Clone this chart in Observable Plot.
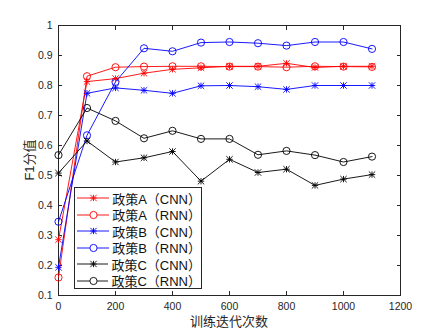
<!DOCTYPE html>
<html>
<head>
<meta charset="utf-8">
<script src="https://cdn.jsdelivr.net/npm/d3@7"></script>
<script src="https://cdn.jsdelivr.net/npm/@observablehq/plot@0.6"></script>
<style>
  body { margin: 0; background: #fff; }
  #wrap { position: relative; width: 443px; height: 332px; font-family: "Liberation Sans", Arial, sans-serif; }
  #legend { position: absolute; left: 74px; top: 187px; width: 128px; height: 102px; border: 1px solid #262626; background: #fff; box-sizing: border-box; padding-top: 2px; }
  .row { display: flex; align-items: center; height: 16.5px; font-family: "Liberation Sans", "Noto Sans CJK SC", sans-serif; font-size: 13px; color: #111; white-space: nowrap; }
  .row svg { margin-left: 2px; margin-right: 3px; }
  .xlab { position: absolute; left: 0; width: 458px; top: 311px; text-align: center; font-family: "Noto Sans CJK SC", sans-serif; font-size: 13px; color: #262626; }
  .ylab { position: absolute; left: 28px; top: 160px; transform: translate(-50%, -50%) rotate(-90deg); font-family: "Liberation Sans", "Noto Sans CJK SC", sans-serif; font-size: 13px; color: #262626; white-space: nowrap; }
</style>
</head>
<body>
<div id="wrap"></div>
<script>
const iters = [0, 100, 200, 300, 400, 500, 600, 700, 800, 900, 1000, 1100];
const aCNN = [0.286, 0.813, 0.823, 0.841, 0.854, 0.859, 0.864, 0.864, 0.874, 0.860, 0.864, 0.864];
const aRNN = [0.160, 0.831, 0.861, 0.863, 0.864, 0.864, 0.863, 0.863, 0.861, 0.864, 0.863, 0.862];
const bCNN = [0.194, 0.774, 0.792, 0.784, 0.774, 0.799, 0.800, 0.796, 0.787, 0.800, 0.800, 0.800];
const bRNN = [0.346, 0.634, 0.812, 0.924, 0.914, 0.943, 0.945, 0.941, 0.933, 0.945, 0.945, 0.922];
const cCNN = [0.508, 0.615, 0.545, 0.559, 0.580, 0.481, 0.554, 0.510, 0.521, 0.467, 0.488, 0.503];
const cRNN = [0.568, 0.725, 0.682, 0.624, 0.649, 0.622, 0.622, 0.569, 0.582, 0.568, 0.545, 0.563];
const names = ["政策A（CNN）", "政策A（RNN）", "政策B（CNN）", "政策B（RNN）", "政策C（CNN）", "政策C（RNN）"];
const colors = ["#ff0000", "#ff0000", "#0000ff", "#0000ff", "#000000", "#000000"];
const markers = ["star", "circle", "star", "circle", "star", "circle"];
const xTicks = [0, 200, 400, 600, 800, 1000, 1200];
const yTicks = [0.1, 0.2, 0.3, 0.4, 0.5, 0.6, 0.7, 0.8, 0.9, 1];
const xLabel = "训练迭代次数";
const yLabel = "F1分值";

const seriesValues = [aCNN, aRNN, bCNN, bRNN, cCNN, cRNN];
const data = seriesValues.flatMap((vals, i) => vals.map((v, j) => ({
  iter: iters[j], f1: v, name: names[i], color: colors[i], marker: markers[i]
})));
const stars = data.filter(d => d.marker === "star");
const circles = data.filter(d => d.marker === "circle");

const axisColor = "#262626";
const plot = Plot.plot({
  width: 443,
  height: 332,
  marginLeft: 58,
  marginRight: 43,
  marginTop: 25,
  marginBottom: 37,
  style: { fontFamily: "Liberation Sans, Arial, sans-serif", fontSize: "10.5px", color: axisColor, background: "transparent" },
  x: { domain: [0, 1200] },
  y: { domain: [0.1, 1] },
  color: { type: "identity" },
  marks: [
    Plot.axisX({ ticks: xTicks, tickSize: -4, tickPadding: 11, label: null, tickFormat: d => String(d), stroke: axisColor }),
    Plot.axisX({ anchor: "top", ticks: xTicks, tickSize: -4, label: null, tickFormat: () => "", stroke: axisColor }),
    Plot.axisY({ ticks: yTicks, tickSize: -4, tickPadding: 10, label: null, tickFormat: d => String(+d.toFixed(1)), stroke: axisColor }),
    Plot.axisY({ anchor: "right", ticks: yTicks, tickSize: -4, label: null, tickFormat: () => "", stroke: axisColor }),
    Plot.frame({ stroke: axisColor, strokeWidth: 1 }),
    Plot.line(data, { x: "iter", y: "f1", z: "name", stroke: "color", strokeWidth: 0.9 }),
    Plot.dot(circles, { x: "iter", y: "f1", stroke: "color", fill: "none", r: 3.6, strokeWidth: 0.9 }),
    Plot.dot(stars, { x: "iter", y: "f1", stroke: "color", symbol: "plus", r: 2.2, strokeWidth: 0.9 }),
    Plot.dot(stars, { x: "iter", y: "f1", stroke: "color", symbol: "times", r: 3.0, strokeWidth: 0.9 })
  ]
});
const wrap = document.getElementById("wrap");
wrap.appendChild(plot);

const xl = document.createElement("div"); xl.className = "xlab"; xl.textContent = xLabel; wrap.appendChild(xl);
const yl = document.createElement("div"); yl.className = "ylab"; yl.textContent = yLabel; wrap.appendChild(yl);

const legend = document.createElement("div");
legend.id = "legend";
names.forEach((n, i) => {
  const row = document.createElement("div");
  row.className = "row";
  const svg = d3.create("svg").attr("width", 33).attr("height", 12);
  svg.append("line").attr("x1", 0).attr("x2", 33).attr("y1", 6).attr("y2", 6).attr("stroke", colors[i]).attr("stroke-width", 0.9);
  if (markers[i] === "circle") {
    svg.append("circle").attr("cx", 16.5).attr("cy", 6).attr("r", 3.6).attr("fill", "#fff").attr("stroke", colors[i]).attr("stroke-width", 0.9);
  } else {
    svg.append("path").attr("transform", "translate(16.5,6)").attr("d", d3.symbol(d3.symbolPlus, 15)()).attr("fill", "none").attr("stroke", colors[i]).attr("stroke-width", 0.9);
    svg.append("path").attr("transform", "translate(16.5,6)").attr("d", d3.symbol(d3.symbolTimes, 28)()).attr("fill", "none").attr("stroke", colors[i]).attr("stroke-width", 0.9);
  }
  row.appendChild(svg.node());
  const t = document.createElement("span"); t.textContent = n; row.appendChild(t);
  legend.appendChild(row);
});
wrap.appendChild(legend);
</script>
</body>
</html>
